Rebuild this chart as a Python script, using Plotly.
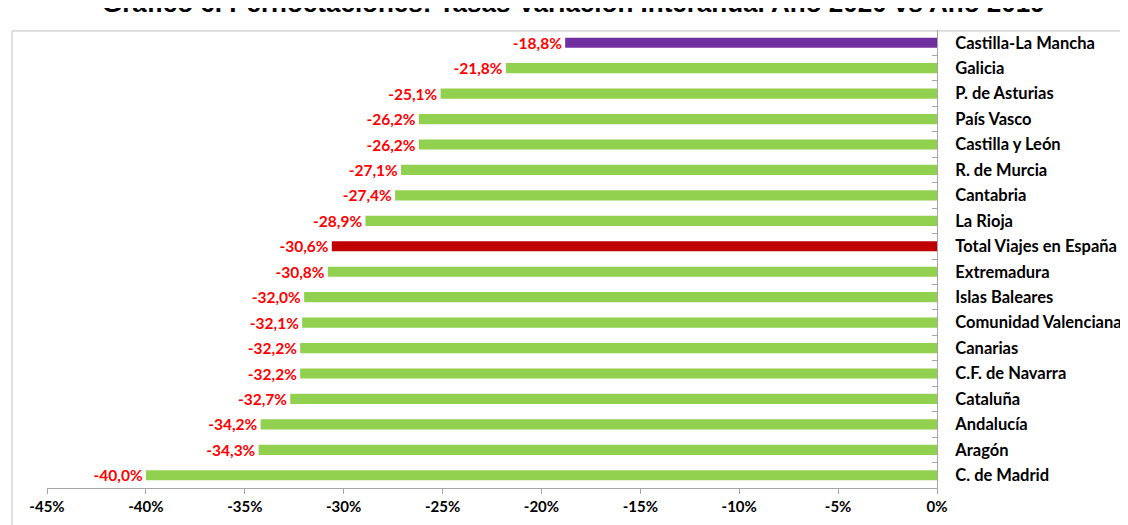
import plotly.graph_objects as go

regions = ["Castilla-La Mancha", "Galicia", "P. de Asturias", "País Vasco", "Castilla y León",
           "R. de Murcia", "Cantabria", "La Rioja", "Total Viajes en España", "Extremadura",
           "Islas Baleares", "Comunidad Valenciana", "Canarias", "C.F. de Navarra", "Cataluña",
           "Andalucía", "Aragón", "C. de Madrid"]
values = [-18.8, -21.8, -25.1, -26.2, -26.2, -27.1, -27.4, -28.9, -30.6, -30.8,
          -32.0, -32.1, -32.2, -32.2, -32.7, -34.2, -34.3, -40.0]
x_ticks = [-45, -40, -35, -30, -25, -20, -15, -10, -5, 0]

colors = []
for r in regions:
    if r == "Castilla-La Mancha":
        colors.append("#7030A0")
    elif r == "Total Viajes en España":
        colors.append("#C00000")
    else:
        colors.append("#92D050")

labels = [f"{v:.1f}".replace(".", ",") + "%" for v in values]

fig = go.Figure(go.Bar(
    x=values,
    y=regions,
    orientation="h",
    width=0.4,
    marker=dict(color=colors, line=dict(width=0)),
    text=labels,
    textposition="outside",
    constraintext="none",
    cliponaxis=False,
    textfont=dict(family="Lato", size=15.5, color="#FF0000", weight="bold"),
))

# the page body has an 8px margin, margins below compensate for it
fig.update_layout(
    width=1128,
    height=525,
    margin=dict(l=39, r=199, t=22, b=45),
    plot_bgcolor="white",
    paper_bgcolor="white",
    showlegend=False,
    xaxis=dict(
        range=[-45, 0],
        tickvals=x_ticks,
        ticktext=[f"{t}%" for t in x_ticks],
        showgrid=False,
        zeroline=False,
        showline=True,
        linecolor="#A6A6A6",
        linewidth=1,
        ticks="outside",
        ticklen=5,
        tickcolor="#A6A6A6",
        tickfont=dict(family="Lato", size=15, color="black", weight="bold"),
    ),
    yaxis=dict(
        categoryorder="array",
        categoryarray=regions,
        autorange="reversed",
        side="right",
        showgrid=False,
        showline=True,
        linecolor="#A6A6A6",
        linewidth=1,
        ticks="inside",
        tickson="boundaries",
        ticklen=5,
        tickcolor="#A6A6A6",
        ticklabelstandoff=14,
        tickfont=dict(family="Lato", size=16.5, color="black", weight="bold"),
    ),
)

# title sits partly above the visible page, as in the source image
fig.add_annotation(
    text="<b>Gráfico 6. Pernoctaciones: Tasas Variación Interanual Año 2020 vs Año 2019</b>",
    xref="paper", yref="paper", x=0.592, y=1.06,
    xanchor="center", yanchor="middle", showarrow=False,
    font=dict(family="Arial", size=26, color="black"),
)

fig.add_shape(type="rect", xref="paper", yref="paper",
              x0=-0.0393, x1=1.3, y0=-0.2, y1=0.998,
              line=dict(color="#BFBFBF", width=1), fillcolor="rgba(0,0,0,0)", layer="below")

fig.write_html("out.html")
